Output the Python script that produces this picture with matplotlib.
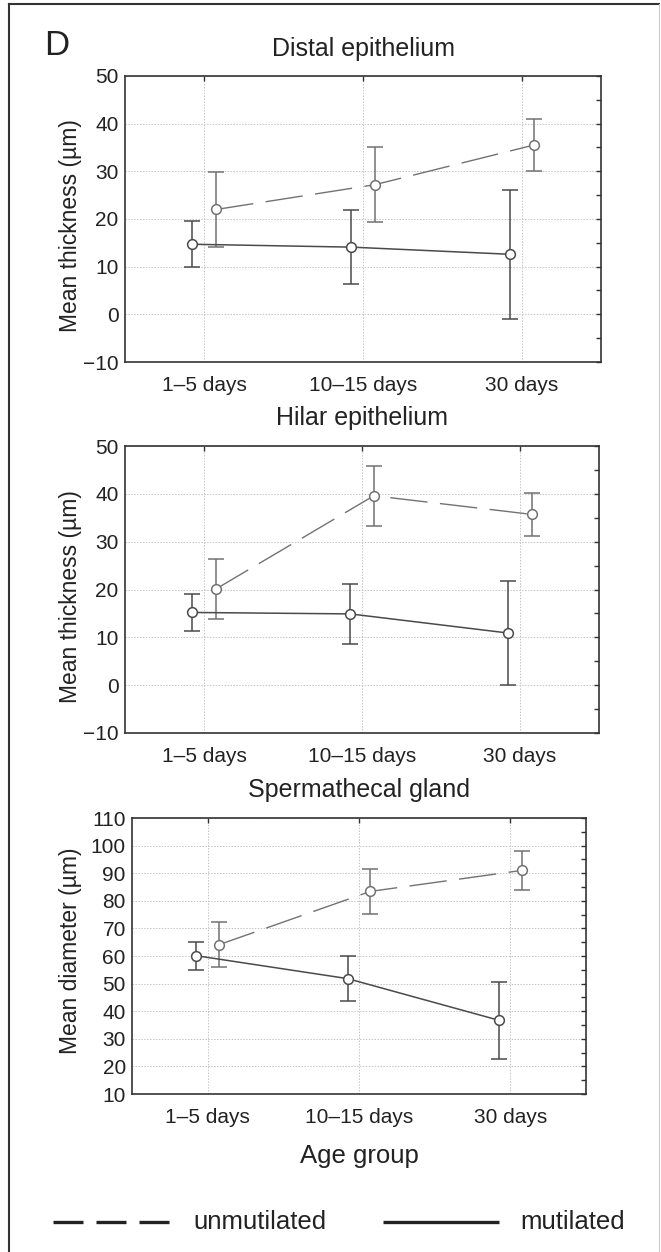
import matplotlib
matplotlib.use("Agg")
import matplotlib.pyplot as plt
from matplotlib.lines import Line2D
from matplotlib.ticker import MultipleLocator
import numpy as np

plt.rcParams['font.family'] = ['Liberation Sans', 'DejaVu Sans']

W, H = 661, 1252

categories = ["1\u20135 days", "10\u201315 days", "30 days"]

# Distal epithelium (mean thickness, um)
distal_mut = [14.7, 14.1, 12.6]
distal_mut_err = [4.8, 7.8, 13.5]
distal_unmut = [22.0, 27.2, 35.5]
distal_unmut_err = [7.8, 7.8, 5.5]

# Hilar epithelium (mean thickness, um)
hilar_mut = [15.2, 14.9, 10.9]
hilar_mut_err = [3.9, 6.3, 10.9]
hilar_unmut = [20.1, 39.6, 35.7]
hilar_unmut_err = [6.3, 6.3, 4.5]

# Spermathecal gland (mean diameter, um)
gland_mut = [60.1, 51.8, 36.7]
gland_mut_err = [5.0, 8.2, 14.0]
gland_unmut = [64.1, 83.4, 91.0]
gland_unmut_err = [8.1, 8.1, 7.0]

MUT_COLOR = "#4a4a4a"
UNMUT_COLOR = "#727272"
TEXT_COLOR = "#222222"


def px_box(left, right, top, bottom):
    return [left / W, 1 - bottom / H, (right - left) / W, (bottom - top) / H]


def draw_panel(ax, mut, mut_err, unmut, unmut_err, ylim, ystep):
    x = np.arange(len(categories))
    shift = 0.075

    ax.errorbar(x - shift, mut, yerr=mut_err, fmt="none", ecolor=MUT_COLOR,
                elinewidth=1.1, capsize=6, capthick=1.1, zorder=3)
    ax.errorbar(x + shift, unmut, yerr=unmut_err, fmt="none", ecolor=UNMUT_COLOR,
                elinewidth=1.1, capsize=6, capthick=1.1, zorder=3)

    ax.plot(x - shift, mut, color=MUT_COLOR, lw=1.1, marker="o", ms=7,
            mfc="white", mec=MUT_COLOR, mew=1.1, zorder=4)
    ax.plot(x + shift, unmut, color=UNMUT_COLOR, lw=1.0, dashes=(27, 9),
            marker="o", ms=7, mfc="white", mec=UNMUT_COLOR, mew=1.1, zorder=4)

    ax.set_xlim(-0.5, len(categories) - 0.5)
    ax.set_ylim(*ylim)
    ax.set_xticks(x)
    ax.set_xticklabels(categories)
    ax.yaxis.set_major_locator(MultipleLocator(ystep))
    ax.yaxis.set_minor_locator(MultipleLocator(5))

    ax.grid(True, which="major", color="#c4c4c4", lw=0.7, ls=(0, (1.5, 1.5)))
    ax.set_axisbelow(True)

    ax.tick_params(which="both", direction="in", left=False, bottom=False,
                   right=True, top=True, length=3.5, width=1.0, color="#333333",
                   labelsize=15, labelcolor=TEXT_COLOR)
    ax.tick_params(which="minor", top=False)
    ax.tick_params(axis="y", pad=4.5)
    ax.tick_params(axis="x", pad=10)
    for sp in ax.spines.values():
        sp.set_linewidth(1.2)
        sp.set_color("#333333")


fig = plt.figure(figsize=(W / 100, H / 100), dpi=100)

ax1 = fig.add_axes(px_box(125, 601, 76, 362))
draw_panel(ax1, distal_mut, distal_mut_err, distal_unmut, distal_unmut_err, (-10, 50), 10)

ax2 = fig.add_axes(px_box(125, 599, 446, 733))
draw_panel(ax2, hilar_mut, hilar_mut_err, hilar_unmut, hilar_unmut_err, (-10, 50), 10)

ax3 = fig.add_axes(px_box(132, 586, 818, 1094))
draw_panel(ax3, gland_mut, gland_mut_err, gland_unmut, gland_unmut_err, (10, 110), 10)

# panel titles
fig.text(363 / W, 1 - 56 / H, "Distal epithelium", ha="center", va="baseline",
         fontsize=18, color=TEXT_COLOR)
fig.text(362 / W, 1 - 425 / H, "Hilar epithelium", ha="center", va="baseline",
         fontsize=18, color=TEXT_COLOR)
fig.text(359 / W, 1 - 797 / H, "Spermathecal gland", ha="center", va="baseline",
         fontsize=18, color=TEXT_COLOR)

# y labels
fig.text(70 / W, 1 - 226 / H, "Mean thickness (\u00b5m)", rotation=90,
         ha="center", va="center", fontsize=16.5, color=TEXT_COLOR)
fig.text(70 / W, 1 - 597 / H, "Mean thickness (\u00b5m)", rotation=90,
         ha="center", va="center", fontsize=16.5, color=TEXT_COLOR)
fig.text(70 / W, 1 - 951 / H, "Mean diameter (\u00b5m)", rotation=90,
         ha="center", va="center", fontsize=16.5, color=TEXT_COLOR)

fig.text(359 / W, 1 - 1163 / H, "Age group", ha="center", va="baseline",
         fontsize=18.5, color=TEXT_COLOR)

fig.text(44 / W, 1 - 55 / H, "D", ha="left", va="baseline", fontsize=25,
         color=TEXT_COLOR)

# legend drawn by hand, as in the original figure
ly = 1 - 1222 / H
fig.add_artist(Line2D([53 / W, 169 / W], [ly, ly], color="#222222", lw=2.4,
                      dashes=(9, 3.9), solid_capstyle="butt", dash_capstyle="butt"))
fig.text(193 / W, ly, "unmutilated", ha="left", va="center", fontsize=18.5,
         color=TEXT_COLOR)
fig.add_artist(Line2D([383 / W, 499 / W], [ly, ly], color="#222222", lw=2.4,
                      solid_capstyle="butt"))
fig.text(520 / W, ly, "mutilated", ha="left", va="center", fontsize=18.5,
         color=TEXT_COLOR)

# outer frame
fig.add_artist(Line2D([9 / W, 9 / W], [0, 1 - 4 / H], color="#333333", lw=1.5))
fig.add_artist(Line2D([9 / W, 659 / W], [1 - 4 / H, 1 - 4 / H], color="#333333", lw=1.5))
fig.add_artist(Line2D([659 / W, 659 / W], [0, 1 - 4 / H], color="#cccccc", lw=0.8))

fig.savefig("out.png", dpi=100)
